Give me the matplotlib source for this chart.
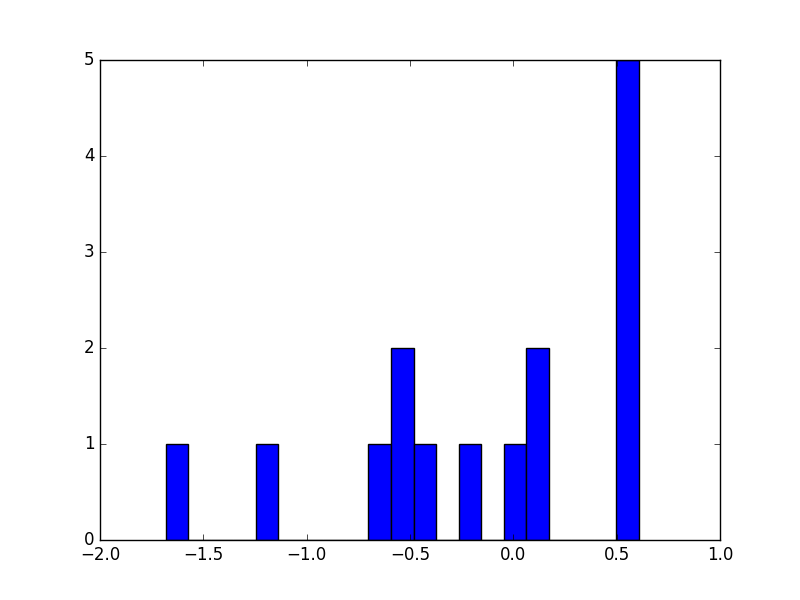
import numpy as np
import matplotlib
matplotlib.use('Agg')
import matplotlib.pyplot as plt

plt.style.use('classic')

# значения выборки
values = [-1.682,
          -1.19,
          -0.65,
          -0.55, -0.52,
          -0.43,
          -0.21,
          0.01,
          0.10, 0.13,
          0.52, 0.55, 0.57, 0.59, 0.607]
n_bins = 21

fig, ax = plt.subplots(figsize=(8, 6), dpi=100)
ax.hist(values, bins=n_bins, color='b', edgecolor='k')
ax.set_xlim(-2.0, 1.0)
ax.set_ylim(0, 5)

plt.savefig('out.png', dpi=100)
